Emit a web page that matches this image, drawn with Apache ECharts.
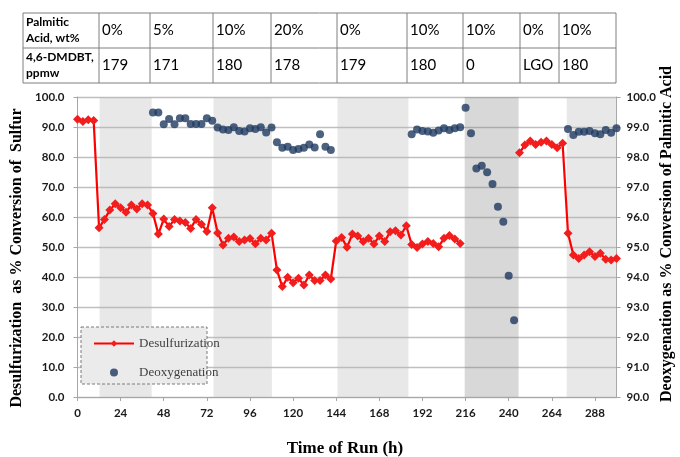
<!DOCTYPE html>
<html>
<head>
<meta charset="utf-8">
<script src="https://cdn.jsdelivr.net/npm/echarts@6/dist/echarts.min.js"></script>
<style>
  html, body { margin: 0; padding: 0; background: #ffffff; }
  #chart { width: 680px; height: 457px; }
</style>
</head>
<body>
<div id="chart"></div>
<script>
// Desulfurization (% conversion of sulfur), left axis; null marks the break during the sulfur-free feed
const desulfHours = [0, 3, 6, 9, 12, 15, 18, 21, 24, 27, 30, 33, 36, 39, 42, 45, 48, 51, 54, 57, 60, 63, 66, 69, 72, 75,
  78, 81, 84, 87, 90, 93, 96, 99, 102, 105, 108, 111, 114, 117, 120, 123, 126, 129, 132, 135, 138, 141,
  144, 147, 150, 153, 156, 159, 162, 165, 168, 171, 174, 177, 180, 183, 186, 189, 192, 195, 198, 201, 204, 207, 210, 213,
  229, 246, 249, 252, 255, 258, 261, 264, 267, 270, 273, 276, 279, 282, 285, 288, 291, 294, 297, 300];
const desulfValues = [92.6, 91.8, 92.4, 92.2, 56.4, 59.2, 62.3, 64.4, 63.1, 61.6, 64.0, 62.7, 64.4, 64.0, 61.2, 54.3, 59.3, 56.8, 59.2, 58.7, 58.2, 56.2, 59.2, 57.6, 55.2, 63.1,
  54.7, 50.7, 52.9, 53.3, 51.8, 52.3, 52.8, 51.1, 52.9, 52.3, 54.6, 42.3, 36.8, 39.9, 38.1, 39.6, 37.3, 40.7, 38.8, 38.8, 40.7, 39.3,
  52.0, 53.2, 49.9, 54.3, 53.7, 51.8, 52.9, 51.0, 53.7, 51.8, 55.1, 55.4, 54.0, 57.1, 50.8, 49.8, 51.0, 51.8, 51.2, 50.1, 52.9, 53.8, 52.7, 51.2,
  null, 81.4, 84.0, 85.3, 84.2, 84.9, 85.3, 84.2, 83.1, 84.6, 54.6, 47.3, 46.2, 47.3, 48.4, 46.8, 47.9, 45.9, 45.7, 46.2];

// Deoxygenation (% conversion of palmitic acid), right axis
const deoxyHours = [42, 45, 48, 51, 54, 57, 60, 63, 66, 69, 72, 75, 78, 81, 84, 87, 90, 93, 96, 99, 102, 105, 108,
  111, 114, 117, 120, 123, 126, 129, 132, 135, 138, 141,
  186, 189, 192, 195, 198, 201, 204, 207, 210, 213, 216, 219, 222, 225, 228, 231, 234, 237, 240, 243,
  273, 276, 279, 282, 285, 288, 291, 294, 297, 300];
const deoxyValues = [99.48, 99.48, 99.09, 99.27, 99.09, 99.29, 99.29, 99.10, 99.10, 99.10, 99.29, 99.21, 98.98, 98.92, 98.90, 98.99, 98.87, 98.85, 98.96, 98.93, 98.99, 98.82, 98.98,
  98.49, 98.31, 98.34, 98.23, 98.27, 98.31, 98.42, 98.32, 98.76, 98.34, 98.23,
  98.76, 98.92, 98.87, 98.85, 98.81, 98.88, 98.96, 98.90, 98.96, 98.99, 99.64, 98.79, 97.62, 97.71, 97.49, 97.10, 96.34, 95.84, 94.04, 92.56,
  98.93, 98.73, 98.84, 98.84, 98.87, 98.79, 98.76, 98.90, 98.81, 98.96];

// Shaded feed periods [start h, end h]; the darker one is the sulfur-free feed
const lightBands = [[12.3, 41.3], [75.7, 108.2], [144.7, 184.2], [272.3, 300]];
const darkBands = [[215.5, 245.5]];

// Feed composition table
const tableHeader = ['Palmitic\nAcid, wt%', '4,6-DMDBT,\nppmw'];
const palmiticRow = ['0%', '5%', '10%', '20%', '0%', '10%', '10%', '0%', '10%'];
const dmdbtRow = ['179', '171', '180', '178', '179', '180', '0', 'LGO', '180'];

const desulfData = desulfHours.map((h, i) => [h, desulfValues[i] === null ? '-' : desulfValues[i]]);
const deoxyData = deoxyHours.map((h, i) => [h, deoxyValues[i]]);

const sansBold = { fontFamily: 'Lato', fontWeight: 'bold', fontSize: 11.5, color: '#1a1a1a' };

// table drawing
const colX = [23, 99, 150, 213, 271, 337, 407, 463, 520, 559, 616];
const rowY = [13, 48, 83];
const tableGraphics = [];
const lineColor = '#7f7f7f';
rowY.forEach(y => tableGraphics.push({ type: 'line', shape: { x1: colX[0], y1: y, x2: colX[colX.length - 1], y2: y }, style: { stroke: lineColor, lineWidth: 1 } }));
colX.forEach(x => tableGraphics.push({ type: 'line', shape: { x1: x, y1: rowY[0], x2: x, y2: rowY[2] }, style: { stroke: lineColor, lineWidth: 1 } }));
tableHeader.forEach((t, r) => tableGraphics.push({
  type: 'text', x: colX[0] + 3, y: (rowY[r] + rowY[r + 1]) / 2,
  style: { text: t, fontFamily: 'Lato', fontWeight: 'bold', fontSize: 12, lineHeight: 16, fill: '#000', verticalAlign: 'middle', align: 'left' }
}));
[palmiticRow, dmdbtRow].forEach((row, r) => row.forEach((t, c) => tableGraphics.push({
  type: 'text', x: colX[c + 1] + 3, y: (rowY[r] + rowY[r + 1]) / 2,
  style: { text: t, fontFamily: 'Lato', fontSize: 15, fill: '#000', verticalAlign: 'middle', align: 'left' }
})));

const titleFont = { fontFamily: 'Liberation Serif', fontWeight: 'bold', fill: '#000' };

const chart = echarts.init(document.getElementById('chart'), null, { renderer: 'canvas' });
chart.setOption({
  animation: false,
  backgroundColor: '#ffffff',
  grid: { left: 77.5, right: 63.5, top: 97, bottom: 60 },
  xAxis: {
    type: 'value', min: 0, max: 300, interval: 24,
    axisLine: { show: true, lineStyle: { color: '#a6a6a6', width: 1 } },
    axisTick: { show: true, length: 4, lineStyle: { color: '#a6a6a6' } },
    axisLabel: Object.assign({ margin: 10, showMaxLabel: false }, sansBold),
    splitLine: { show: false }
  },
  yAxis: [
    {
      type: 'value', min: 0, max: 100, interval: 10, position: 'left',
      axisLine: { show: true, lineStyle: { color: '#a6a6a6', width: 1 } },
      axisTick: { show: true, length: 4, lineStyle: { color: '#a6a6a6' } },
      axisLabel: Object.assign({ margin: 13, formatter: v => v.toFixed(1) }, sansBold),
      splitLine: { show: true, lineStyle: { color: '#bfbfbf', width: 1.3 } }
    },
    {
      type: 'value', min: 90, max: 100, interval: 1, position: 'right',
      axisLine: { show: true, lineStyle: { color: '#a6a6a6', width: 1 } },
      axisTick: { show: true, length: 4, lineStyle: { color: '#a6a6a6' } },
      axisLabel: Object.assign({ margin: 10, formatter: v => v.toFixed(1) }, sansBold),
      splitLine: { show: false }
    }
  ],
  legend: {
    orient: 'vertical', left: 88, top: 332, z: 10,
    itemWidth: 40, itemHeight: 8, itemGap: 16,
    textStyle: { fontFamily: 'Liberation Serif', fontSize: 13, color: '#404040' },
    data: [
      { name: 'Desulfurization' },
      { name: 'Deoxygenation', icon: 'circle' }
    ]
  },
  series: [
    {
      name: 'Desulfurization', type: 'line', yAxisIndex: 0, z: 2,
      data: desulfData, connectNulls: false,
      symbol: 'diamond', symbolSize: 9,
      lineStyle: { color: '#ff0000', width: 2.2 },
      itemStyle: { color: '#f21d1d' }
    },
    {
      name: 'Deoxygenation', type: 'scatter', yAxisIndex: 1, z: 2,
      data: deoxyData, symbol: 'circle', symbolSize: 8,
      itemStyle: { color: '#1f3a60' }
    },
    {
      // translucent shading laid over the run periods
      type: 'line', data: [], z: 5, silent: true,
      markArea: {
        silent: true,
        data: lightBands.map(b => [{ xAxis: b[0], itemStyle: { color: 'rgba(179,179,179,0.3)' } }, { xAxis: b[1] }])
          .concat(darkBands.map(b => [{ xAxis: b[0], itemStyle: { color: 'rgba(125,125,125,0.3)' } }, { xAxis: b[1] }]))
      }
    }
  ],
  graphic: tableGraphics.concat([
    {
      type: 'rect', z: 9, shape: { x: 81, y: 327, width: 126, height: 57 },
      style: { fill: '#ebebeb', stroke: '#7a7a7a', lineWidth: 1, lineDash: [3, 2] }
    },
    {
      type: 'text', x: 17, y: 258, rotation: Math.PI / 2,
      style: Object.assign({ text: 'Desulfurization  as % Conversion of  Sulfur', fontSize: 16, align: 'center', verticalAlign: 'middle' }, titleFont)
    },
    {
      type: 'text', x: 667, y: 234, rotation: Math.PI / 2,
      style: Object.assign({ text: 'Deoxygenation as % Conversion of Palmitic Acid', fontSize: 16, align: 'center', verticalAlign: 'middle' }, titleFont)
    },
    {
      type: 'text', x: 345, y: 449,
      style: Object.assign({ text: 'Time of Run (h)', fontSize: 17, align: 'center', verticalAlign: 'middle' }, titleFont)
    }
  ])
});
</script>
</body>
</html>
